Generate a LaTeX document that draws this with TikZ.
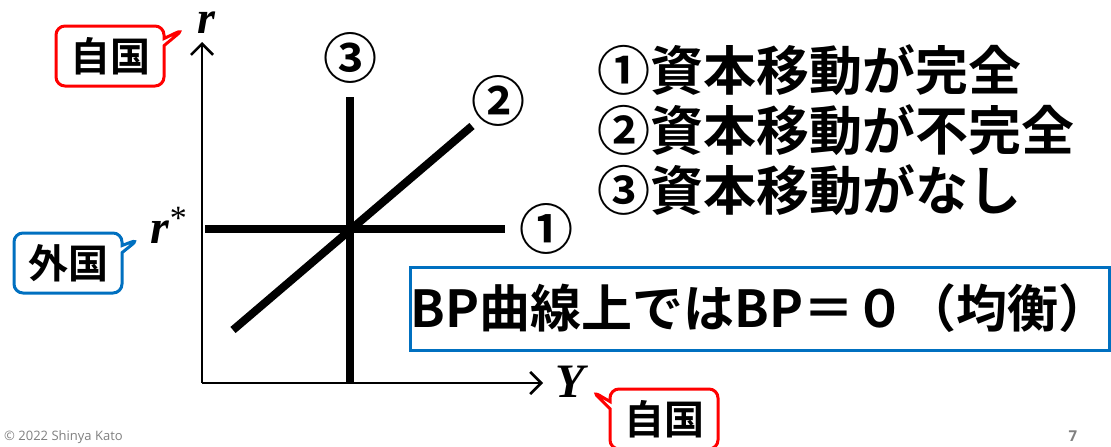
\documentclass[tikz,border=0pt]{standalone}
\usepackage{fontspec}
\setmainfont{Liberation Serif}
\newfontfamily\cjk{Noto Sans CJK JP}[BoldFont={Noto Sans CJK JP Bold}]
\newfontfamily\smallsans{Open Sans}
\usetikzlibrary{arrows.meta,shapes.callouts}
\definecolor{cred}{RGB}{255,0,0}
\definecolor{cblue}{RGB}{0,112,192}
\definecolor{cgray}{RGB}{128,128,128}
\tikzset{
  axis/.style={line width=2.6pt,-{Straight Barb[length=11pt,width=22pt,line width=2.6pt]}},
  curve/.style={line width=8pt},
  circnum/.style={inner sep=0pt,font=\cjk\bfseries\fontsize{54}{54}\selectfont},
  mathlbl/.style={inner sep=0pt,font=\bfseries\itshape\fontsize{48}{48}\selectfont},
  listtxt/.style={inner sep=0pt,anchor=west,font=\cjk\bfseries\fontsize{53}{53}\selectfont},
  callred/.style={rectangle callout,draw=cred,line width=3pt,rounded corners=9pt,fill=white,
    font=\cjk\bfseries\fontsize{40}{40}\selectfont,minimum width=108pt,minimum height=60pt,inner sep=0pt},
  callblue/.style={callred,draw=cblue}
}
\begin{document}
\begin{tikzpicture}[x=1pt,y=-1pt]
\useasboundingbox (0,0) rectangle (1111,447);
% axes
\coordinate (O) at (202,383);
\coordinate (rtop) at (202,42);
\coordinate (yend) at (543,383);
\draw[axis] (O) -- (rtop);
\draw[axis] (O) -- (yend);
\node[mathlbl,anchor=base,font=\bfseries\itshape\fontsize{46}{46}\selectfont] (r) at (206,33) {r};
\node[mathlbl,anchor=base east] (rs) at (187,243) {r\kern1pt\raisebox{14pt}{\fontsize{34}{34}\selectfont\mdseries\upshape *}};
\node[mathlbl,anchor=base] (Y) at (570,397) {Y};
% curves
\coordinate (h1) at (205,229);
\coordinate (h2) at (505,229);
\coordinate (v1) at (350,97);
\coordinate (v2) at (350,383);
\coordinate (d1) at (233,330);
\coordinate (d2) at (472,126);
\draw[curve] (h1) -- (h2);
\draw[curve] (v1) -- (v2);
\draw[curve] (d1) -- (d2);
\node[circnum] (n1) at (546,229) {①};
\node[circnum] (n2) at (498,101) {②};
\node[circnum] (n3) at (350,58) {③};
% list
\node[listtxt] (l1) at (597,70) {①資本移動が完全};
\node[listtxt] (l2) at (597,130) {②資本移動が不完全};
\node[listtxt] (l3) at (597,190) {③資本移動がなし};
% BP box
\node[draw=cblue,line width=3pt,minimum width=696pt,minimum height=83pt,inner sep=0pt,
  font=\cjk\bfseries\fontsize{51}{51}\selectfont] (bp) at (760,308.5) {BP曲線上ではBP＝０（均衡）};
% callouts
\node[callred,callout absolute pointer={(184,29)}] (c1) at (110,56) {自国};
\node[callblue,callout absolute pointer={(139,239)}] (c2) at (68,263) {外国};
\node[callred,callout absolute pointer={(592,391)}] (c3) at (664,419) {自国};
% footer
\node[anchor=west,inner sep=0pt,text=cgray,font=\smallsans\fontsize{13}{13}\selectfont] (copy) at (4,437) {© 2022 Shinya Kato};
\node[inner sep=0pt,text=cgray,font=\smallsans\bfseries\fontsize{15}{15}\selectfont] (pg) at (1073,436) {7};
\end{tikzpicture}
\end{document}
